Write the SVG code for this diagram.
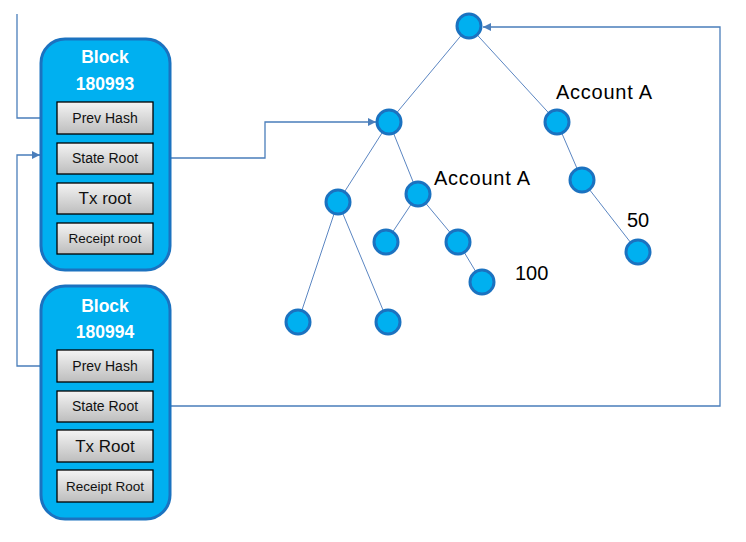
<svg xmlns="http://www.w3.org/2000/svg" width="746" height="542" viewBox="0 0 746 542">
<style>
.blk{fill:#00b0f0;stroke:#1b72c0;stroke-width:3}
.ttl{font-family:"Liberation Sans",Arial,sans-serif;font-weight:bold;font-size:17.5px;fill:#fff;text-anchor:middle}
.fld{fill:url(#g);stroke:#000;stroke-width:1.3}
.ft{font-family:"Liberation Sans",Arial,sans-serif;fill:#111;text-anchor:middle}
.nd{fill:#00b0f0;stroke:#1b72c0;stroke-width:3}
.ed{stroke:#5b86c2;stroke-width:1;fill:none}
.cn{stroke:#4a7ebb;stroke-width:1.3;fill:none}
.lb{font-family:"Liberation Sans",Arial,sans-serif;font-size:20px;fill:#000}
</style>
<defs>
<linearGradient id="g" x1="0" y1="0" x2="0" y2="1">
<stop offset="0" stop-color="#f4f4f4"/>
<stop offset="1" stop-color="#bdbdbd"/>
</linearGradient>
<marker id="ar" viewBox="0 0 10 10" refX="10" refY="5" markerWidth="8" markerHeight="8" markerUnits="userSpaceOnUse" orient="auto">
<path d="M0,0 L10,5 L0,10 z" fill="#4a7ebb"/>
</marker>
</defs>
<rect width="746" height="542" fill="#fff"/>
<g id="connectors">
<polyline class="cn" points="17,14 17,118 57,118"/>
<polyline class="cn" points="57,366 17,366 17,155 40,155" marker-end="url(#ar)"/>
<polyline class="cn" points="153,158 265,158 265,122 376,122" marker-end="url(#ar)"/>
<polyline class="cn" points="153,406 720,406 720,27 483,27" marker-end="url(#ar)"/>
</g>
<g id="block-180993">
<rect class="blk" x="41" y="39" width="129" height="231" rx="24"/>
<text class="ttl" x="105" y="63">Block</text>
<text class="ttl" x="105" y="90">180993</text>
<rect class="fld" x="57" y="102" width="96" height="32"/>
<text class="ft" x="105" y="123" font-size="14">Prev Hash</text>
<rect class="fld" x="57" y="143" width="96" height="31"/>
<text class="ft" x="105" y="163" font-size="14">State Root</text>
<rect class="fld" x="57" y="183" width="96" height="31"/>
<text class="ft" x="105" y="204" font-size="17">Tx root</text>
<rect class="fld" x="57" y="223" width="96" height="31"/>
<text class="ft" x="105" y="243" font-size="13.5">Receipt root</text>
</g>
<g id="block-180994">
<rect class="blk" x="41" y="286" width="129" height="233" rx="24"/>
<text class="ttl" x="105" y="312">Block</text>
<text class="ttl" x="105" y="338">180994</text>
<rect class="fld" x="57" y="350" width="96" height="32"/>
<text class="ft" x="105" y="371" font-size="14">Prev Hash</text>
<rect class="fld" x="57" y="391" width="96" height="31"/>
<text class="ft" x="105" y="411" font-size="14">State Root</text>
<rect class="fld" x="57" y="430" width="96" height="32"/>
<text class="ft" x="105" y="452" font-size="17">Tx Root</text>
<rect class="fld" x="57" y="470" width="96" height="32"/>
<text class="ft" x="105" y="491" font-size="13.5">Receipt Root</text>
</g>
<g id="tree-edges">
<line class="ed" x1="469" y1="26" x2="389" y2="122"/>
<line class="ed" x1="469" y1="26" x2="557" y2="122"/>
<line class="ed" x1="389" y1="122" x2="338" y2="202"/>
<line class="ed" x1="389" y1="122" x2="418" y2="194"/>
<line class="ed" x1="338" y1="202" x2="298" y2="322"/>
<line class="ed" x1="338" y1="202" x2="388" y2="322"/>
<line class="ed" x1="418" y1="194" x2="386" y2="242"/>
<line class="ed" x1="418" y1="194" x2="458" y2="242"/>
<line class="ed" x1="458" y1="242" x2="482" y2="282"/>
<line class="ed" x1="557" y1="122" x2="582" y2="180"/>
<line class="ed" x1="582" y1="180" x2="638" y2="252"/>
</g>
<g id="node-root"><circle class="nd" cx="469" cy="26" r="12"/></g>
<g id="node-l1"><circle class="nd" cx="389" cy="122" r="12"/></g>
<g id="node-r1"><circle class="nd" cx="557" cy="122" r="12"/></g>
<g id="node-l2a"><circle class="nd" cx="338" cy="202" r="12"/></g>
<g id="node-l2b"><circle class="nd" cx="418" cy="194" r="12"/></g>
<g id="node-l3a"><circle class="nd" cx="386" cy="242" r="12"/></g>
<g id="node-l3b"><circle class="nd" cx="458" cy="242" r="12"/></g>
<g id="node-l4"><circle class="nd" cx="482" cy="282" r="12"/></g>
<g id="node-leaf1"><circle class="nd" cx="298" cy="322" r="12"/></g>
<g id="node-leaf2"><circle class="nd" cx="388" cy="322" r="12"/></g>
<g id="node-r2"><circle class="nd" cx="582" cy="180" r="12"/></g>
<g id="node-r3"><circle class="nd" cx="638" cy="252" r="12"/></g>
<g id="labels">
<text class="lb" x="556" y="99" textLength="96">Account A</text>
<text class="lb" x="434" y="185" textLength="96">Account A</text>
<text class="lb" x="515" y="280">100</text>
<text class="lb" x="627" y="227">50</text>
</g>
</svg>
